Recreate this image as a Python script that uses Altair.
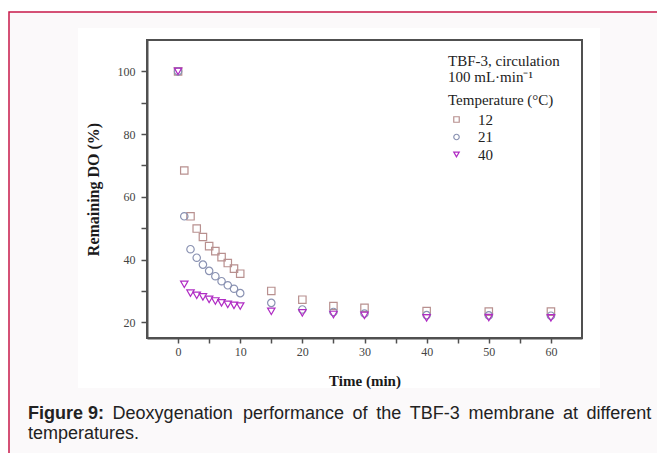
import altair as alt
import pandas as pd

# ---- data ----
times = [0, 1, 2, 3, 4, 5, 6, 7, 8, 9, 10, 15, 20, 25, 30, 40, 50, 60]
do_12 = [100, 68.4, 53.8, 49.9, 47.2, 44.3, 42.7, 40.8, 38.9, 37.1, 35.5, 30.0, 27.2, 25.2, 24.6, 23.6, 23.4, 23.4]
do_21 = [100, 53.8, 43.3, 40.6, 38.4, 36.4, 34.7, 33.1, 31.8, 30.7, 29.3, 26.2, 24.1, 23.3, 22.8, 22.3, 22.2, 22.1]
do_40 = [100, 32.1, 29.3, 28.6, 28.1, 27.3, 26.8, 26.2, 25.7, 25.4, 25.2, 23.5, 23.0, 22.5, 22.2, 21.4, 21.5, 21.4]
temps = ["12", "21", "40"]
colors = ["#b8908f", "#8a92b2", "#b02cc4"]
shapes = ["square", "circle", "triangle-down"]
stroke_widths = [1.2, 1.2, 2.0]
x_ticks = [0, 5, 10, 15, 20, 25, 30, 35, 40, 45, 50, 55, 60]
y_ticks = [20, 30, 40, 50, 60, 70, 80, 90, 100]

legend_lines = ["TBF-3, circulation", "100 mL\u00b7min\u207b\u00b9"]
caption_bold = "Figure 9:"
caption_words = ["Deoxygenation", "performance", "of", "the", "TBF-3", "membrane", "at", "different"]
caption_word_x = [112.6, 243.0, 352.6, 376.2, 409.8, 468.4, 563.0, 586.6]
caption_line2 = "temperatures."

rows = []
for k, (temp, series) in enumerate(zip(temps, [do_12, do_21, do_40])):
    for i, (t, v) in enumerate(zip(times, series)):
        rows.append({"time": t, "do": v, "temp": temp, "k": k * 100 + i})
df = pd.DataFrame(rows)

W, H = 435, 298
L, T = 147, 40
one = pd.DataFrame({"a": [0]})

panel = alt.Chart(one).mark_rect(fill="#fbf9fa", stroke="#c8184a", strokeWidth=1.5).encode(
    x=alt.value(9 - L), x2=alt.value(680 - L), y=alt.value(12 - T), y2=alt.value(480 - T)
)
image_bg = alt.Chart(one).mark_rect(fill="white").encode(
    x=alt.value(78 - L), x2=alt.value(600 - L), y=alt.value(28 - T), y2=alt.value(388 - T)
)
frame = alt.Chart(one).mark_rect(fill="transparent", stroke="#505050", strokeWidth=2).encode(
    x=alt.value(0), x2=alt.value(W), y=alt.value(0), y2=alt.value(H)
)

legend_def = alt.Legend(title="Temperature (\u00b0C)", orient="none", legendX=301, legendY=53)

points = alt.Chart(df).mark_point(filled=False, opacity=1, size=55).encode(
    x=alt.X("time:Q",
            scale=alt.Scale(domain=[-5, 65], nice=False, zero=False),
            axis=alt.Axis(values=x_ticks, labelExpr="datum.value % 10 == 0 ? datum.label : ''",
                          title="Time (min)", grid=False, zindex=1,
                          domainColor="#505050", domainWidth=2, tickColor="#505050", tickWidth=1.5,
                          tickSize=5, labelFont="Liberation Serif", labelFontSize=12, labelColor="#444",
                          labelPadding=3, titleFont="Liberation Serif", titleFontSize=15,
                          titleFontWeight="bold", titleColor="#1a1a1a",
                          titleX=W / 2, titleY=42, titleBaseline="middle", titleAlign="center")),
    y=alt.Y("do:Q",
            scale=alt.Scale(domain=[15, 110], nice=False, zero=False),
            axis=alt.Axis(values=y_ticks, labelExpr="datum.value % 20 == 0 ? datum.label : ''",
                          title="Remaining DO (%)", grid=False, zindex=1,
                          domainColor="#505050", domainWidth=2, tickColor="#505050", tickWidth=1.5,
                          tickSize=6, labelFont="Liberation Serif", labelFontSize=12, labelColor="#444",
                          labelPadding=6, titleFont="Liberation Serif", titleFontSize=16,
                          titleFontWeight="bold", titleColor="#1a1a1a",
                          titleX=-54, titleY=H / 2, titleAngle=270, titleBaseline="middle",
                          titleAlign="center")),
    color=alt.Color("temp:N", scale=alt.Scale(domain=temps, range=colors), legend=legend_def),
    shape=alt.Shape("temp:N", scale=alt.Scale(domain=temps, range=shapes), legend=legend_def),
    strokeWidth=alt.StrokeWidth("temp:N", scale=alt.Scale(domain=temps, range=stroke_widths), legend=None),
    order=alt.Order("k:Q"),
)

leg_df = pd.DataFrame({"txt": legend_lines, "yy": [25.8, 42.0]})
leg_text = alt.Chart(leg_df).mark_text(
    align="left", baseline="alphabetic", font="Liberation Serif", fontSize=15, color="#222"
).encode(x=alt.value(448 - L), y=alt.Y("yy:Q", scale=None), text="txt:N")

cap_bold = alt.Chart(one).mark_text(
    align="left", baseline="alphabetic", font="Liberation Sans", fontSize=18, fontWeight="bold",
    color="#222", text=caption_bold
).encode(x=alt.value(28 - L), y=alt.value(418.5 - T))

cap_df = pd.DataFrame({"w": caption_words, "xx": [v - L for v in caption_word_x]})
cap_words = alt.Chart(cap_df).mark_text(
    align="left", baseline="alphabetic", font="Liberation Sans", fontSize=18, color="#222"
).encode(x=alt.X("xx:Q", scale=None), y=alt.value(418.5 - T), text="w:N")

cap_line2 = alt.Chart(one).mark_text(
    align="left", baseline="alphabetic", font="Liberation Sans", fontSize=18, color="#222",
    text=caption_line2
).encode(x=alt.value(28 - L), y=alt.value(438.5 - T))

chart = alt.layer(panel, image_bg, frame, points, leg_text, cap_bold, cap_words, cap_line2).properties(
    width=W, height=H,
    autosize=alt.AutoSizeParams(type="none"),
    padding={"left": L, "top": T, "right": 657 - L - W, "bottom": 453 - T - H},
    background="white",
).configure_view(strokeWidth=0).configure_legend(
    titleFont="Liberation Serif", titleFontSize=15, titleFontWeight="normal", titleColor="#222",
    labelFont="Liberation Serif", labelFontSize=15, labelColor="#222",
    symbolSize=30, symbolStrokeWidth=1.5, symbolOffset=1, labelOffset=14,
    rowPadding=1.5, titlePadding=4, padding=0,
)

chart.save("out.html", embed_options={"renderer": "svg", "actions": False})
